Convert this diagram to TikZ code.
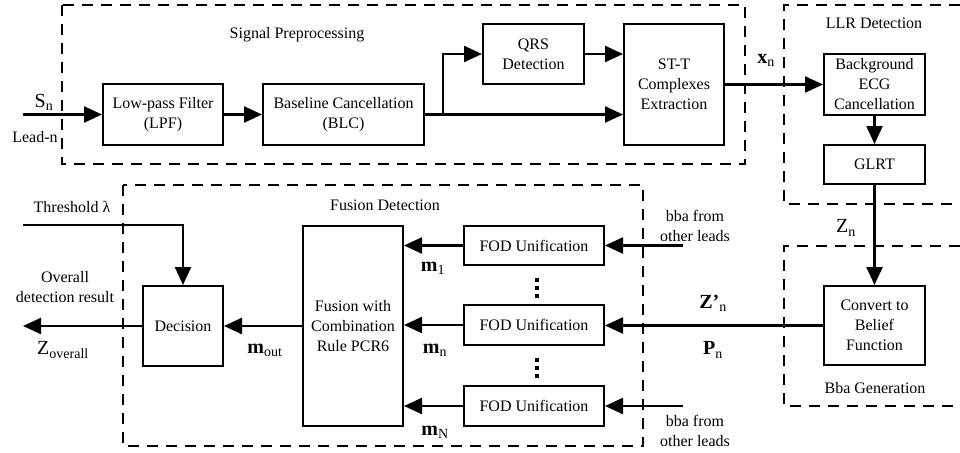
\documentclass[tikz,border=0pt]{standalone}
\usepackage{fontspec}
\setmainfont{Liberation Serif}
\usetikzlibrary{arrows.meta}
\begin{document}
\begin{tikzpicture}[x=1pt,y=-1pt,
  blk/.style={draw,line width=2pt,align=center,inner sep=0pt,font=\fontsize{16}{20}\selectfont},
  txt/.style={align=center,inner sep=0pt,font=\fontsize{16}{20}\selectfont},
  lbl/.style={inner sep=0pt,font=\fontsize{20}{24}\selectfont},
  grp/.style={line width=1.8pt,dash pattern=on 11pt off 8pt},
  arr/.style={line width=2.4pt,-{Triangle[length=18pt,width=16pt]}},
  dot/.style={fill=black}]
\useasboundingbox (0,0) rectangle (960,452);
% groups
\draw[grp] (62,5) rectangle (745,164);
\draw[grp] (960,5) -- (784,5) -- (784,204) -- (960,204);
\draw[grp] (960,246) -- (784,246) -- (784,406) -- (960,406);
\draw[grp] (123,185) rectangle (643,446);
% blocks
\node[blk,minimum width=120pt,minimum height=61pt] (lpf) at (163,114.5) {Low-pass Filter\\(LPF)};
\node[blk,minimum width=161pt,minimum height=61pt] (blc) at (343.5,114.5) {Baseline Cancellation\\(BLC)};
\node[blk,minimum width=101pt,minimum height=60pt] (qrs) at (533.5,54) {QRS\\Detection};
\node[blk,minimum width=100pt,minimum height=121pt] (stt) at (674,84.5) {ST-T\\Complexes\\Extraction};
\node[blk,minimum width=101pt,minimum height=61pt] (bg) at (874.5,84.5) {Background\\ECG\\Cancellation};
\node[blk,minimum width=101pt,minimum height=39pt] (glrt) at (874.5,164.5) {GLRT};
\node[blk,minimum width=101pt,minimum height=79pt] (conv) at (874.5,325.5) {Convert to\\Belief\\Function};
\node[blk,minimum width=80pt,minimum height=80pt] (dec) at (183,326) {Decision};
\node[blk,minimum width=100pt,minimum height=200pt] (fus) at (353,326) {Fusion with\\Combination\\Rule PCR6};
\node[blk,minimum width=140pt,minimum height=39pt] (fod1) at (534,245.5) {FOD Unification};
\node[blk,minimum width=140pt,minimum height=40pt] (fodn) at (534,325) {FOD Unification};
\node[blk,minimum width=140pt,minimum height=40pt] (fodN) at (534,406) {FOD Unification};
% free ends
\coordinate (sin) at (23,114.5);
\coordinate (br) at (443,114.5);
\coordinate (bba1) at (683,245.5);
\coordinate (bbaN) at (683,406);
\coordinate (out) at (23,326);
\coordinate (thr) at (23,225);
% connectors
\draw[arr] (sin) -- (lpf.west);
\draw[arr] (lpf.east) -- (blc.west);
\draw[arr] (blc.east) -- (blc.east -| stt.west);
\draw[arr] (br) |- (qrs.west);
\draw[arr] (qrs.east) -- (qrs.east -| stt.west);
\draw[arr] (stt.east) -- (bg.west);
\draw[arr] (bg.south) -- (glrt.north);
\draw[arr] (glrt.south) -- (conv.north);
\draw[arr] (conv.west) -- (conv.west -| fodn.east);
\draw[arr] (bba1) -- (fod1.east);
\draw[arr] (bbaN) -- (fodN.east);
\draw[arr] (fod1.west) -- (fod1.west -| fus.east);
\draw[arr] (fodn.west) -- (fodn.west -| fus.east);
\draw[arr] (fodN.west) -- (fodN.west -| fus.east);
\draw[arr] (fus.west) -- (fus.west -| dec.east);
\draw[arr] (dec.west) -- (out);
\draw[arr] (thr) -| (dec.north);
% dots
\foreach \yy in {278,286,294,358,366,374}
  \fill[dot] (535,\yy) rectangle (539,\yy+4);
% titles
\node[txt] (t1) at (297,35) {Signal Preprocessing};
\node[txt] (t2) at (874,23) {LLR Detection};
\node[txt] (t3) at (385,205) {Fusion Detection};
\node[txt] (t4) at (875,388) {Bba Generation};
% labels
\node[lbl] (ls) at (44,102) {S\textsubscript{n}};
\node[txt] (lead) at (35,137) {Lead-n};
\node[lbl] (lx) at (766,60) {\textbf{x}\textsubscript{n}};
\node[lbl] (lz) at (846,228) {Z\textsubscript{n}};
\node[lbl] (lzp) at (713,303) {\textbf{Z’}\textsubscript{n}};
\node[lbl] (lp) at (713,350) {\textbf{P}\textsubscript{n}};
\node[txt] (bb1) at (695,226) {bba from\\other leads};
\node[txt] (bb2) at (695,431) {bba from\\other leads};
\node[lbl] (m1) at (433,268) {\textbf{m}\textsubscript{1}};
\node[lbl] (mn) at (435,350) {\textbf{m}\textsubscript{n}};
\node[lbl] (mN) at (435,432) {\textbf{m}\textsubscript{N}};
\node[lbl] (mo) at (265,350) {\textbf{m}\textsubscript{out}};
\node[txt] (thl) at (72,207) {Threshold λ};
\node[txt] (ovr) at (65,287) {Overall\\detection result};
\node[lbl] (zo) at (63,350) {Z\textsubscript{overall}};
\end{tikzpicture}
\end{document}
